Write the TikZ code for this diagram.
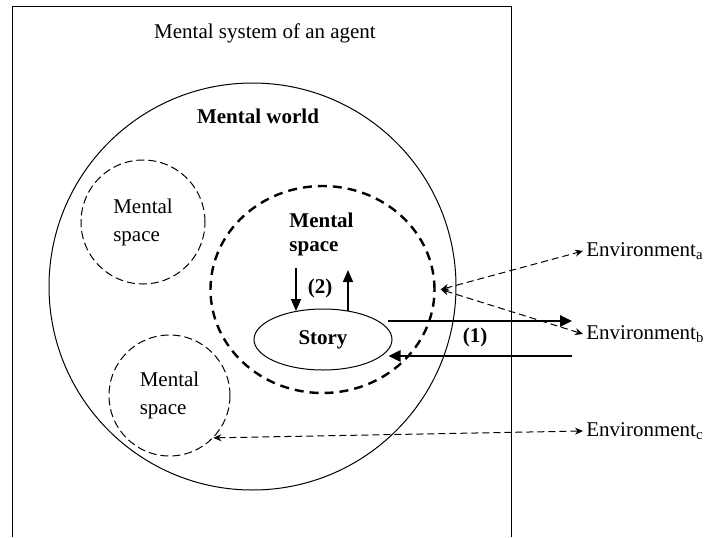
\documentclass[tikz,border=0pt]{standalone}
\usepackage{fontspec}
\setmainfont{Liberation Serif}
\usetikzlibrary{arrows.meta,positioning,calc,shapes.geometric}

\begin{document}
\begin{tikzpicture}[
    x=0.5pt, y=-0.5pt,
    font=\fontsize{10.5}{14}\selectfont,
    worldcirc/.style={draw, circle, line width=0.5pt, minimum size=203.5pt, inner sep=0pt},
    spacecirc/.style={draw, circle, line width=0.5pt, dash pattern=on 4pt off 2pt, inner sep=0pt, align=left},
    focuscirc/.style={draw, ellipse, line width=1.2pt, dash pattern=on 4.5pt off 3pt, minimum width=112pt, minimum height=103.5pt, inner sep=0pt},
    storybox/.style={draw, ellipse, line width=0.5pt, minimum width=69pt, minimum height=30.5pt, inner sep=0pt, font=\fontsize{10.5}{14}\selectfont\bfseries},
    envlabel/.style={anchor=west, inner sep=1.5pt},
    flow/.style={-{Triangle[length=6pt,width=5.5pt]}, line width=1.3pt},
    link/.style={-{Triangle[length=6pt,width=5pt]}, line width=0.8pt},
    sense/.style={{Stealth[length=4pt,width=3.5pt]}-{Stealth[length=4pt,width=3.5pt]}, line width=0.5pt, dash pattern=on 3.5pt off 2pt},
    tag/.style={font=\fontsize{10.5}{14}\selectfont\bfseries}
]
\useasboundingbox (0,0) rectangle (708,537);

% agent frame (open at the bottom)
\draw[line width=0.5pt] (12.5,537) -- (12.5,6) -- (511,6) -- (511,537);
\node (title) at (265,33) {Mental system of an agent};

% mental world
\node[worldcirc] (world) at (252.5,286.5) {};
\node[tag] (worldlbl) at (258,116) {Mental world};

% mental spaces
\node[spacecirc, minimum size=62pt] (ms1) at (143,222) {Mental\\space};
\node[spacecirc, minimum size=60.5pt] (ms2) at (169.5,395.5) {Mental\\space};
\node[focuscirc] (msf) at (322.5,289.5) {};
\node[tag, align=left, font=\fontsize{10.5}{12}\selectfont\bfseries] (msflbl) at (321.5,234) {Mental\\space};

% story
\node[storybox] (story) at (323,339.5) {Story};

% (2)
\coordinate (d2) at (296,268);
\coordinate (u2) at (348,270);
\draw[link] (d2) -- (d2 |- story.134);
\draw[link] (u2 |- story.49) -- (u2);
\node[tag] (lbl2) at (320,288) {(2)};

% environments
\node[envlabel] (enva) at (583,251) {Environment\textsubscript{a}};
\node[envlabel] (envb) at (583,334) {Environment\textsubscript{b}};
\node[envlabel] (envc) at (583,431) {Environment\textsubscript{c}};

% (1)
\coordinate (out1) at (572,321);
\coordinate (in1) at (572,356);
\draw[flow] ($(story.east |- out1)+(-5,0)$) -- (out1);
\draw[flow] (in1) -- ($(story.east |- in1)+(-4,0)$);
\node[tag] (lbl1) at (475,337) {(1)};

% perception links
\coordinate (p) at ([xshift=2.5pt]msf.east);
\draw[sense] (p) -- (enva.west);
\draw[sense] (p) -- (envb.west);
\draw[sense] (ms2.-44) -- (envc.west);
\end{tikzpicture}
\end{document}
